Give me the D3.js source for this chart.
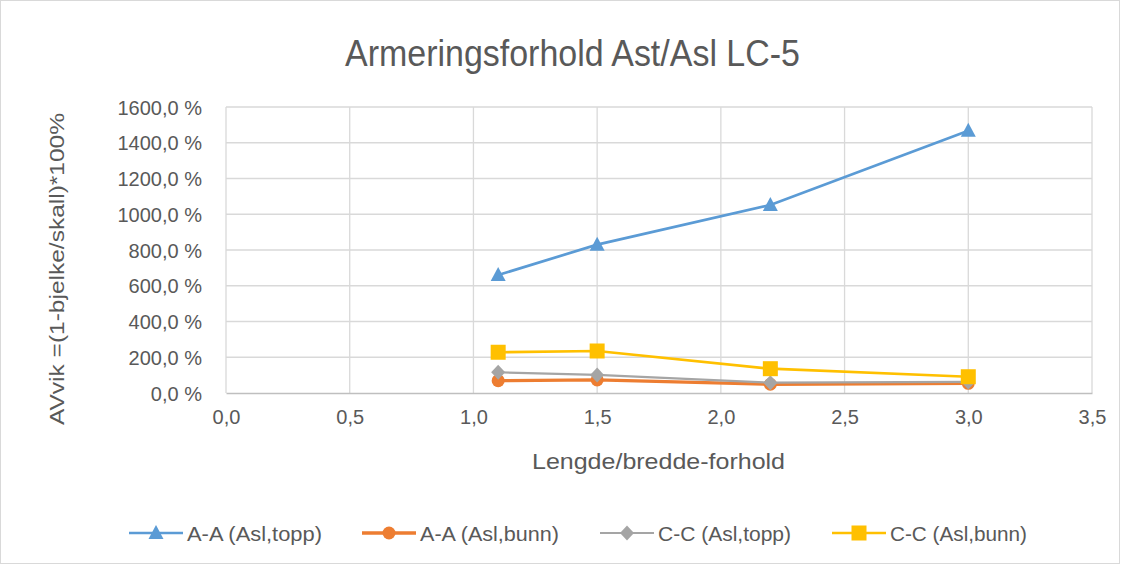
<!DOCTYPE html>
<html><head><meta charset="utf-8">
<script src="https://cdn.jsdelivr.net/npm/d3@7"></script>
<style>body{margin:0;background:#fff}svg{display:block}text{font-family:"Liberation Sans",Arial,sans-serif}</style>
</head><body>
<svg id="c" width="1123" height="564"></svg>
<script>
const xValues = [1.1, 1.5, 2.2, 3.0];
const seriesNames = ["A-A (Asl,topp)", "A-A (Asl,bunn)", "C-C (Asl,topp)", "C-C (Asl,bunn)"];
const aaTopp = [660, 830, 1052, 1467];
const aaBunn = [69, 73, 49, 54];
const ccTopp = [116, 101, 58, 62];
const ccBunn = [228, 235, 136, 91];
const colors = ["#5b9bd5", "#ed7d31", "#a5a5a5", "#ffc000"];
const markers = ["triangle", "circle", "diamond", "square"];
const xTicks = [0, 0.5, 1, 1.5, 2, 2.5, 3, 3.5];
const yTicks = [0, 200, 400, 600, 800, 1000, 1200, 1400, 1600];
const title = "Armeringsforhold Ast/Asl LC-5";
const xTitle = "Lengde/bredde-forhold";
const yTitle = "AVvik =(1-bjelke/skall)*100%";

const series = [aaTopp, aaBunn, ccTopp, ccBunn];
const widths = [2.7, 3.3, 2.2, 2.7];
const svg = d3.select("#c");
svg.append("rect").attr("x",0.5).attr("y",0.5).attr("width",1119).attr("height",563).attr("fill","#fff").attr("stroke","#d9d9d9");

const x = d3.scaleLinear().domain([0,3.5]).range([226,1092]);
const y = d3.scaleLinear().domain([0,1600]).range([393,107]);
const fmt = v => d3.format(".1f")(v).replace(".", ",") + " %";
const fmtX = v => d3.format(".1f")(v).replace(".", ",");

// gridlines
const g = svg.append("g");
g.selectAll(".hg").data(yTicks.slice(1)).join("line")
  .attr("x1",x(0)).attr("x2",x(3.5)).attr("y1",d=>y(d)).attr("y2",d=>y(d))
  .attr("stroke","#d9d9d9").attr("stroke-width",1.3);
g.selectAll(".vg").data(xTicks).join("line")
  .attr("y1",y(0)).attr("y2",y(1600)).attr("x1",d=>x(d)).attr("x2",d=>x(d))
  .attr("stroke","#d9d9d9").attr("stroke-width",1.3);

// axes
const xa = svg.append("g").attr("transform",`translate(0,${y(0)})`)
  .call(d3.axisBottom(x).tickValues(xTicks).tickFormat(fmtX).tickSize(0).tickPadding(24));
xa.select(".domain").attr("stroke","#bfbfbf").attr("stroke-width",1.3);
xa.selectAll("text").attr("font-size",20).attr("fill","#595959").attr("dy","0.36em");
const ya = svg.append("g").attr("transform",`translate(${x(0)},0)`)
  .call(d3.axisLeft(y).tickValues(yTicks).tickFormat(fmt).tickSize(0).tickPadding(24));
ya.select(".domain").remove();
ya.selectAll("text").attr("font-size",20).attr("fill","#595959").attr("dy","0.36em");

// titles
svg.append("text").attr("x",345).attr("y",66)
  .attr("font-size",36).attr("fill","#595959")
  .attr("textLength",455).attr("lengthAdjust","spacingAndGlyphs").text(title);
svg.append("text").attr("x",532).attr("y",469)
  .attr("font-size",21.5).attr("fill","#595959")
  .attr("textLength",253).attr("lengthAdjust","spacingAndGlyphs").text(xTitle);
svg.append("text").attr("transform",`translate(64,425) rotate(-90)`)
  .attr("font-size",20.5).attr("fill","#595959")
  .attr("textLength",312).attr("lengthAdjust","spacingAndGlyphs").text(yTitle);

function drawMarker(sel, type, color){
  if(type==="triangle") sel.append("path").attr("d","M0,-8L7.5,6L-7.5,6Z").attr("fill",color);
  else if(type==="circle") sel.append("circle").attr("r",6.5).attr("fill",color);
  else if(type==="diamond") sel.append("path").attr("d","M0,-7.5L7,0L0,7.5L-7,0Z").attr("fill",color);
  else sel.append("rect").attr("x",-7.5).attr("y",-7.5).attr("width",15).attr("height",15).attr("fill",color);
}

const line = d3.line().x((d,i)=>x(xValues[i])).y(d=>y(d));
series.forEach((s,k)=>{
  svg.append("path").datum(s).attr("d",line).attr("fill","none")
    .attr("stroke",colors[k]).attr("stroke-width",widths[k]);
  s.forEach((v,i)=>{
    const m = svg.append("g").attr("transform",`translate(${x(xValues[i])},${y(v)})`);
    drawMarker(m, markers[k], colors[k]);
  });
});

// legend
const legX = [129, 362, 600, 832];
const legW = [135, 139, 133, 137];
seriesNames.forEach((n,k)=>{
  const lg = svg.append("g").attr("transform",`translate(${legX[k]},533)`);
  lg.append("line").attr("x1",0).attr("x2",54).attr("stroke",colors[k]).attr("stroke-width",widths[k]);
  drawMarker(lg.append("g").attr("transform","translate(27,0)"), markers[k], colors[k]);
  lg.append("text").attr("x",58).attr("y",8).attr("font-size",20.5).attr("fill","#595959")
    .attr("textLength",legW[k]).attr("lengthAdjust","spacingAndGlyphs").text(n);
});
</script>
</body></html>
